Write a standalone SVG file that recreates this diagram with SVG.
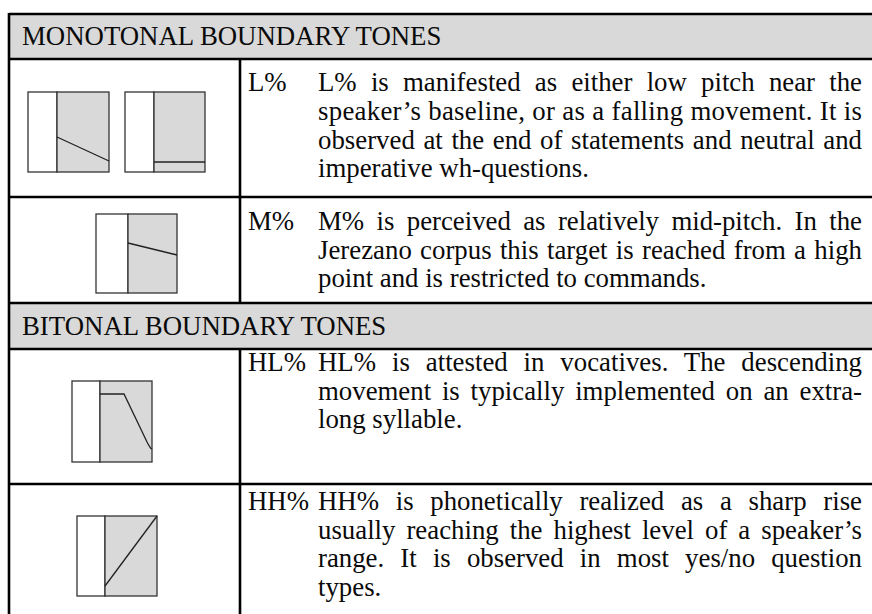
<svg xmlns="http://www.w3.org/2000/svg" width="872" height="614" viewBox="0 0 872 614">
<style>
  text { font-family: "Liberation Serif", "Times New Roman", serif; font-size: 26.8px; fill: #0a0a0a; }
  .hdr { fill: #d9d9d9; }
  .rule { stroke: #000; stroke-width: 2.6; fill: none; }
  .box { fill: #fff; stroke: #333; stroke-width: 1.3; }
  .shade { fill: #d9d9d9; stroke: #333; stroke-width: 1.3; }
  .contour { fill: none; stroke: #222; stroke-width: 1.3; }
</style>
<rect width="872" height="614" fill="#fff"/>

<g id="table">
  <rect class="hdr" x="9" y="14" width="863" height="45"/>
  <rect class="hdr" x="9" y="303" width="863" height="46"/>
  <g id="rules">
    <line class="rule" x1="9" y1="14" x2="872" y2="14"/>
    <line class="rule" x1="9" y1="59" x2="872" y2="59"/>
    <line class="rule" x1="9" y1="197" x2="872" y2="197"/>
    <line class="rule" x1="9" y1="303" x2="872" y2="303"/>
    <line class="rule" x1="9" y1="349" x2="872" y2="349"/>
    <line class="rule" x1="9" y1="484" x2="872" y2="484"/>
    <line class="rule" x1="9" y1="13" x2="9" y2="614"/>
    <line class="rule" x1="240" y1="59" x2="240" y2="303"/>
    <line class="rule" x1="240" y1="349" x2="240" y2="614"/>
  </g>
</g>

<g id="header-monotonal">
  <text x="22" y="45">MONOTONAL BOUNDARY TONES</text>
</g>

<g id="row-L">
  <g id="icon-L-fall">
    <rect class="box" x="28" y="92" width="29" height="80"/>
    <rect class="shade" x="57" y="92" width="52" height="80"/>
    <line class="contour" x1="57" y1="137" x2="109" y2="161"/>
  </g>
  <g id="icon-L-low">
    <rect class="box" x="125" y="92" width="29" height="80"/>
    <rect class="shade" x="154" y="92" width="51" height="80"/>
    <line class="contour" x1="154" y1="162" x2="205" y2="162"/>
  </g>
  <text x="248" y="91">L%</text>
  <text x="318" y="91" word-spacing="7.5" textLength="544" lengthAdjust="spacing">L% is manifested as either low pitch near the</text>
  <text x="318" y="120" word-spacing="0.1" textLength="544" lengthAdjust="spacing">speaker’s baseline, or as a falling movement. It is</text>
  <text x="318" y="149" word-spacing="1.9" textLength="544" lengthAdjust="spacing">observed at the end of statements and neutral and</text>
  <text x="318" y="177">imperative wh-questions.</text>
</g>

<g id="row-M">
  <g id="icon-M">
    <rect class="box" x="96" y="214" width="32" height="79"/>
    <rect class="shade" x="128" y="214" width="49" height="79"/>
    <line class="contour" x1="128" y1="243" x2="177" y2="255"/>
  </g>
  <text x="248" y="230">M%</text>
  <text x="318" y="230" word-spacing="5.7" textLength="544" lengthAdjust="spacing">M% is perceived as relatively mid-pitch. In the</text>
  <text x="318" y="259" word-spacing="1.6" textLength="544" lengthAdjust="spacing">Jerezano corpus this target is reached from a high</text>
  <text x="318" y="287">point and is restricted to commands.</text>
</g>

<g id="header-bitonal">
  <text x="22" y="335">BITONAL BOUNDARY TONES</text>
</g>

<g id="row-HL">
  <g id="icon-HL">
    <rect class="box" x="72" y="381" width="28" height="81"/>
    <rect class="shade" x="100" y="381" width="52" height="81"/>
    <polyline class="contour" points="100,394 124,394 147.5,443 150.5,448 152,449"/>
  </g>
  <text x="248" y="371">HL%</text>
  <text x="318" y="371" word-spacing="9.2" textLength="544" lengthAdjust="spacing">HL% is attested in vocatives. The descending</text>
  <text x="318" y="400" word-spacing="4.1" textLength="544" lengthAdjust="spacing">movement is typically implemented on an extra-</text>
  <text x="318" y="428">long syllable.</text>
</g>

<g id="row-HH">
  <g id="icon-HH">
    <rect class="box" x="77" y="516" width="28" height="80"/>
    <rect class="shade" x="105" y="516" width="52" height="80"/>
    <line class="contour" x1="105" y1="586" x2="157" y2="516"/>
  </g>
  <text x="248" y="510">HH%</text>
  <text x="318" y="510" word-spacing="10" textLength="544" lengthAdjust="spacing">HH% is phonetically realized as a sharp rise</text>
  <text x="318" y="539" word-spacing="4.3" textLength="544" lengthAdjust="spacing">usually reaching the highest level of a speaker’s</text>
  <text x="318" y="567" word-spacing="9.5" textLength="544" lengthAdjust="spacing">range. It is observed in most yes/no question</text>
  <text x="318" y="596">types.</text>
</g>
</svg>
